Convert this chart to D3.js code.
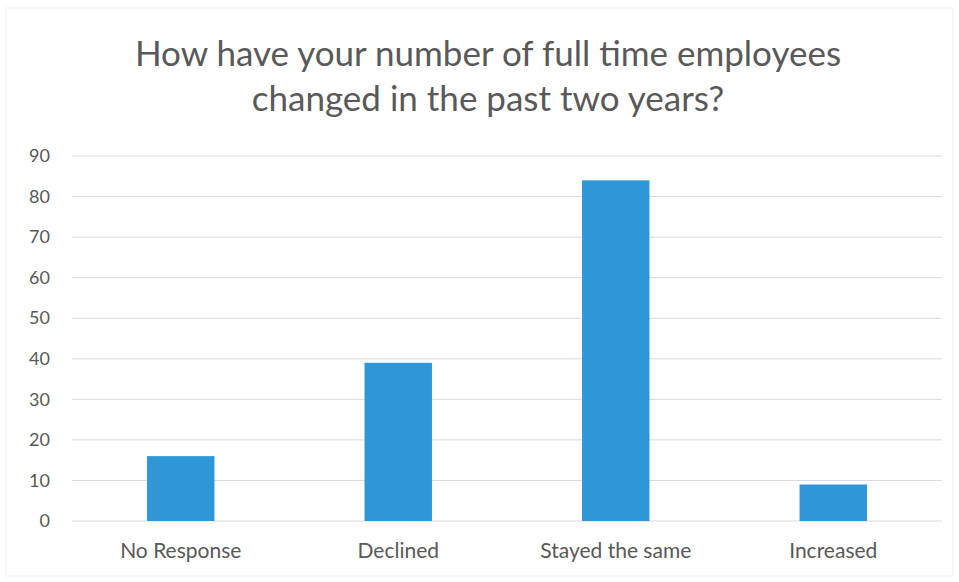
<!DOCTYPE html>
<html>
<head>
<meta charset="utf-8">
<script src="https://cdn.jsdelivr.net/npm/d3@7"></script>
<style>
  body { margin: 0; background: #fff; }
  text { font-family: Lato, "Open Sans", sans-serif; fill: #595959; }
</style>
</head>
<body>
<script>
const width = 959, height = 582;

// data
const categories = ["No Response", "Declined", "Stayed the same", "Increased"];
const counts = [16, 39, 84, 9];
const yTicks = [0, 10, 20, 30, 40, 50, 60, 70, 80, 90];
const titleLines = ["How have your number of full time employees", "changed in the past two years?"];

const margin = {top: 156, right: 17, bottom: 61, left: 72};

const svg = d3.select("body").append("svg")
  .attr("width", width)
  .attr("height", height);

// faint chart border
svg.append("rect")
  .attr("x", 6).attr("y", 8)
  .attr("width", width - 12).attr("height", height - 14)
  .attr("fill", "none")
  .attr("stroke", "#f0f0f0");

const x = d3.scaleBand()
  .domain(categories)
  .range([margin.left, width - margin.right])
  .paddingInner(0.69)
  .paddingOuter(0.345);

const y = d3.scaleLinear()
  .domain([0, 90])
  .range([height - margin.bottom, margin.top]);

// gridlines
svg.append("g")
  .selectAll("line")
  .data(yTicks)
  .enter()
    .append("line")
    .attr("x1", margin.left)
    .attr("x2", width - margin.right)
    .attr("y1", d => y(d))
    .attr("y2", d => y(d))
    .attr("stroke", "#d9d9d9")
    .attr("stroke-width", 1);

// y axis labels
const yAxis = d3.axisLeft(y).tickValues(yTicks).tickSize(0).tickPadding(14);
svg.append("g")
  .attr("transform", "translate(" + (margin.left - 8) + ",0)")
  .call(yAxis)
  .call(g => g.select(".domain").remove())
  .selectAll("text")
    .style("font-family", "Lato, 'Open Sans', sans-serif")
    .style("font-size", "18px")
    .attr("fill", "#595959");

// bars
svg.append("g")
  .selectAll("rect")
  .data(counts)
  .enter()
    .append("rect")
    .attr("x", (d, i) => x(categories[i]))
    .attr("y", d => y(d))
    .attr("width", x.bandwidth())
    .attr("height", d => y(0) - y(d))
    .attr("fill", "#2d97d8");

// x axis labels
const xAxis = d3.axisBottom(x).tickSize(0).tickPadding(22);
svg.append("g")
  .attr("transform", "translate(0," + y(0) + ")")
  .call(xAxis)
  .call(g => g.select(".domain").remove())
  .selectAll("text")
    .style("font-family", "Lato, 'Open Sans', sans-serif")
    .style("font-size", "21px")
    .attr("fill", "#595959");

// title
svg.append("g")
  .selectAll("text")
  .data(titleLines)
  .enter()
    .append("text")
    .attr("x", 488)
    .attr("y", (d, i) => 66 + i * 45)
    .attr("text-anchor", "middle")
    .style("font-size", "35px")
    .text(d => d);
</script>
</body>
</html>
